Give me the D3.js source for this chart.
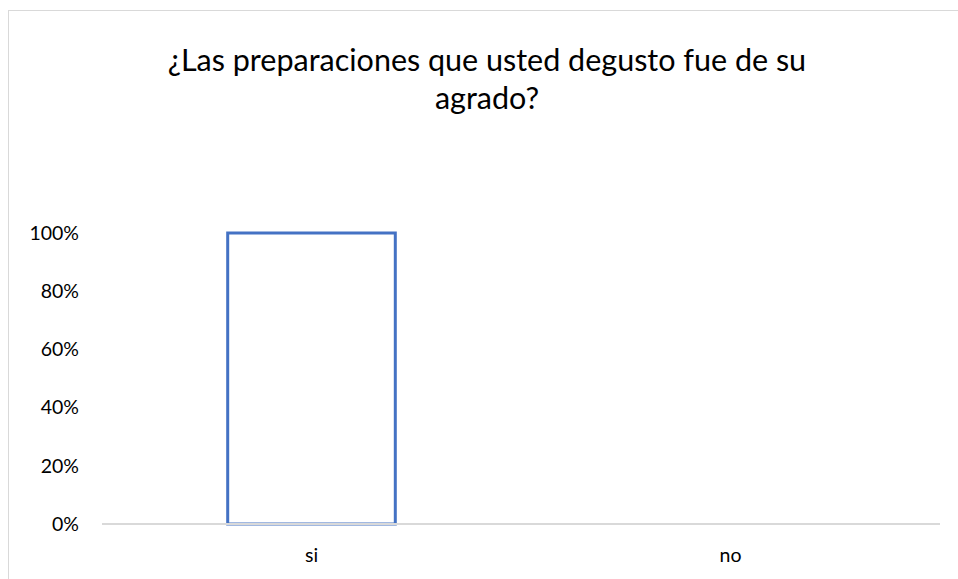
<!DOCTYPE html>
<html>
<head>
<meta charset="utf-8">
<script src="https://cdn.jsdelivr.net/npm/d3@7"></script>
<style>
  html, body { margin: 0; padding: 0; background: #fff; }
  svg { display: block; font-family: Lato, "Open Sans", sans-serif; }
</style>
</head>
<body>
<svg id="chart" width="958" height="579"></svg>
<script>
// Survey answers and their share of respondents
const categories = ["si", "no"];
const shares = [1.0, 0.0];
const tickValues = [0, 0.2, 0.4, 0.6, 0.8, 1.0];
const titleLines = ["¿Las preparaciones que usted degusto fue de su", "agrado?"];

const svg = d3.select("#chart");
const W = 958, H = 579;

// chart frame
svg.append("rect")
  .attr("x", 8.5).attr("y", 10.5)
  .attr("width", W + 10).attr("height", H + 10)
  .attr("fill", "#fff").attr("stroke", "#d9d9d9").attr("stroke-width", 1);

const plot = { left: 102, right: 940, top: 233, bottom: 524 };

const x = d3.scaleBand()
  .domain(categories)
  .range([plot.left, plot.right])
  .paddingInner(0.6).paddingOuter(0.3);

const y = d3.scaleLinear()
  .domain([0, 1])
  .range([plot.bottom, plot.top]);

// title
svg.append("text")
  .attr("x", 487).attr("y", 71)
  .attr("text-anchor", "middle")
  .attr("font-size", 30.5).attr("fill", "#000")
  .selectAll("tspan").data(titleLines).join("tspan")
  .attr("x", 487).attr("dy", (d, i) => i === 0 ? 0 : 38)
  .text(d => d);

// y axis labels (no line, no ticks)
const yAxis = d3.axisLeft(y)
  .tickValues(tickValues)
  .tickFormat(d3.format(".0%"))
  .tickSize(0).tickPadding(23);
const gy = svg.append("g").attr("transform", `translate(${plot.left},0)`).call(yAxis);
gy.select(".domain").remove();
gy.selectAll("text").attr("font-size", 19.5).attr("fill", "#000").attr("font-family", "Lato, sans-serif");

// bars
svg.append("g").selectAll("rect").data(categories).join("rect")
  .attr("x", d => x(d))
  .attr("y", (d, i) => y(shares[i]))
  .attr("width", x.bandwidth())
  .attr("height", (d, i) => y(0) - y(shares[i]))
  .attr("fill", "#fff")
  .attr("stroke", (d, i) => shares[i] > 0 ? "#4472c4" : "none")
  .attr("stroke-width", 3);

// category axis: baseline plus labels
const xAxis = d3.axisBottom(x).tickSize(0).tickPadding(24);
const gx = svg.append("g").attr("transform", `translate(0,${plot.bottom})`).call(xAxis);
gx.select(".domain").attr("stroke", "#d9d9d9").attr("stroke-width", 2)
  .attr("d", `M${plot.left},0H${plot.right}`);
gx.selectAll("text").attr("font-size", 19.5).attr("fill", "#000").attr("font-family", "Lato, sans-serif");
</script>
</body>
</html>
